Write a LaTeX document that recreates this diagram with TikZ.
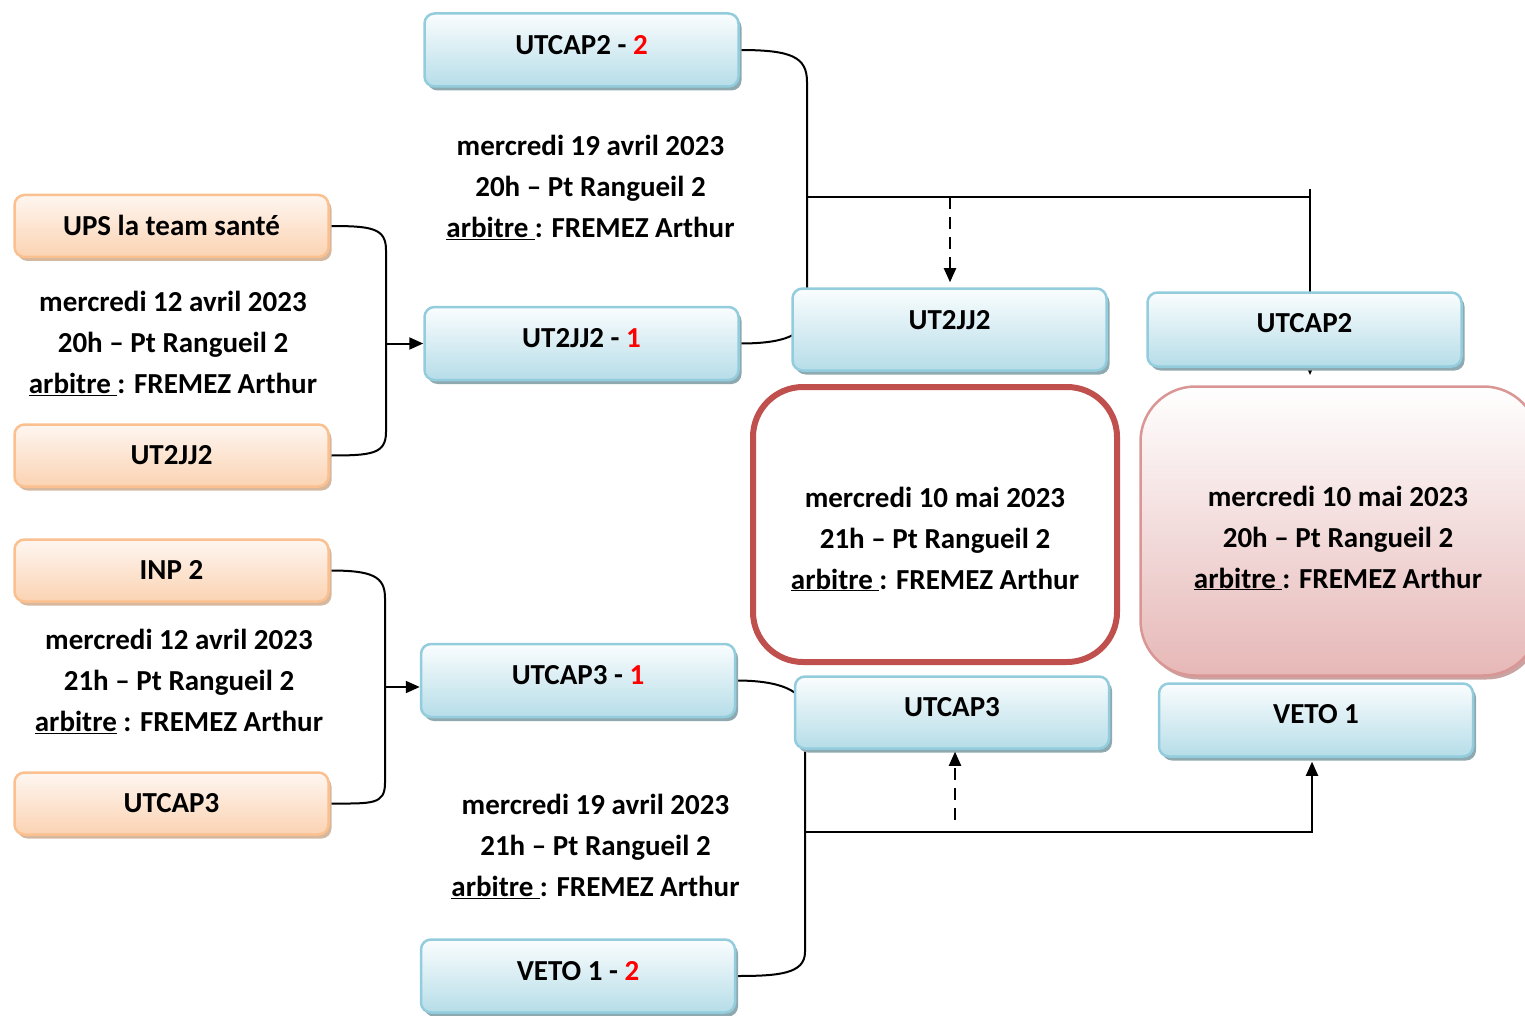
\documentclass[tikz,border=0pt]{standalone}
\usepackage{fontspec}
\setmainfont{Carlito}
\usetikzlibrary{arrows.meta,shadows}
\definecolor{bluebd}{HTML}{93CDDD}
\definecolor{bluetop}{HTML}{FAFDFE}
\definecolor{bluebot}{HTML}{B6DDE8}
\definecolor{blueshd}{HTML}{8FA9B1}
\definecolor{orgbd}{HTML}{FAC090}
\definecolor{orgtop}{HTML}{FEF6F0}
\definecolor{orgbot}{HTML}{FBD3B2}
\definecolor{orgshd}{HTML}{D6B89F}
\definecolor{redbd}{HTML}{C0504D}
\definecolor{pinkbd}{HTML}{D99694}
\definecolor{pinkbot}{HTML}{E6B8B7}
\definecolor{pinkshd}{HTML}{C9A3A2}
\pgfdeclarelayer{bg}
\pgfsetlayers{bg,main}
\newcommand\arbS{\underline{arbitre\ }}
\newcommand\arbN{\underline{arbitre}\ }
\newcommand\rd[1]{{\color{red}#1}}
\begin{document}
\begin{tikzpicture}[x=1pt,y=-1pt,
  every node/.style={font=\fontsize{29}{41}\selectfont\bfseries},
  bbox/.style={rounded corners=10pt, draw=bluebd, line width=2.5pt,
    top color=bluetop, bottom color=bluebot, minimum width=314pt,
    minimum height=73pt, inner sep=0pt, text height=18.6pt, text depth=10pt,
    drop shadow={shadow xshift=3pt, shadow yshift=-4pt, fill=blueshd, opacity=1}},
  obox/.style={rounded corners=10pt, draw=orgbd, line width=2.5pt,
    top color=orgtop, bottom color=orgbot, minimum width=314pt,
    minimum height=62pt, inner sep=0pt, text height=18.6pt, text depth=0pt,
    drop shadow={shadow xshift=3pt, shadow yshift=-4pt, fill=orgshd, opacity=1}},
  info/.style={align=center, inner sep=0pt},
  conn/.style={draw=black, line width=2pt},
  arr/.style={conn, -{Triangle[length=14pt,width=12pt]}},
  darr/.style={arr, dash pattern=on 12pt off 8pt}]
\useasboundingbox (0,0) rectangle (1525,1016);

% left orange boxes
\node[obox] (o1) at (171.5,226) {UPS la team santé};
\node[obox] (o2) at (171.5,455.5) {UT2JJ2};
\node[obox] (o3) at (171.5,570.5) {INP 2};
\node[obox] (o4) at (171.5,803.5) {UTCAP3};

% middle blue boxes
\node[bbox] (b1) at (581.5,50) {UTCAP2 - \rd{2}};
\node[bbox] (b2) at (581.5,343.5) {UT2JJ2 - \rd{1}};
\node[bbox] (b3) at (578,680.5) {UTCAP3 - \rd{1}};
\node[bbox] (b4) at (578,976) {VETO 1 - \rd{2}};

% right blue boxes
\node[bbox, minimum height=82pt, text depth=19pt] (r1) at (949.5,329.5) {UT2JJ2};
\node[bbox, minimum height=74pt, text depth=13pt] (r2) at (1304.5,329.5) {UTCAP2};
\node[bbox, minimum height=72pt, text depth=10pt] (r3) at (952,712.5) {UTCAP3};
\node[bbox, minimum height=73pt, text depth=12pt] (r4) at (1316,720) {VETO 1};

% final boxes
\node[draw=redbd, line width=6pt, rounded corners=50pt, fill=white,
  minimum width=364pt, minimum height=275pt] (fin1) at (935,524.5) {};
\node[draw=pinkbd, line width=2.5pt, rounded corners=55pt,
  top color=white, bottom color=pinkbot,
  drop shadow={shadow xshift=3pt, shadow yshift=-4pt, fill=pinkshd, opacity=1},
  minimum width=398pt, minimum height=289pt] (fin2) at (1339.5,531) {};

% info texts
\node[info] (iA) at (590.5,187.5) {mercredi 19 avril 2023\\20h – Pt Rangueil 2\\\arbS: FREMEZ Arthur};
\node[info] (iB) at (173,343.5) {mercredi 12 avril 2023\\20h – Pt Rangueil 2\\\arbS: FREMEZ Arthur};
\node[info] (iC) at (179,681.5) {mercredi 12 avril 2023\\21h – Pt Rangueil 2\\\arbN: FREMEZ Arthur};
\node[info] (iD) at (595.5,846.5) {mercredi 19 avril 2023\\21h – Pt Rangueil 2\\\arbS: FREMEZ Arthur};
\node[info] (iE) at (935,539) {mercredi 10 mai 2023\\21h – Pt Rangueil 2\\\arbS: FREMEZ Arthur};
\node[info] (iF) at (1338,538) {mercredi 10 mai 2023\\20h – Pt Rangueil 2\\\arbS: FREMEZ Arthur};

% connector coordinates
\coordinate (j1) at (386,343.5);
\coordinate (j2) at (385,687);
\coordinate (m1) at (807,197);
\coordinate (k1) at (1310,197);
\coordinate (k0) at (1310,189);
\coordinate (k2) at (1310,375);
\coordinate (d1) at (950,197);
\coordinate (m2) at (805,832);
\coordinate (k3) at (1312,832);
\coordinate (d2) at (955,820);

\begin{pgfonlayer}{bg}
  \draw[conn] (o1.east) .. controls +(42,0) and +(0,-22) .. (386,250) -- (386,432)
     .. controls +(0,22) and +(42,0) .. (o2.east);
  \draw[arr] (j1) -- (j1 -| b2.west);
  \draw[conn] (o3.east) .. controls +(42,0) and +(0,-22) .. (385,598) -- (385,783)
     .. controls +(0,22) and +(42,0) .. (o4.east);
  \draw[arr] (j2) -- (j2 -| b3.west);
  \draw[conn] (b1.east) .. controls +(52,0) and +(0,-25) .. (807,82) -- (807,312)
     .. controls +(0,25) and +(40,0) .. (b2.east);
  \draw[conn] (m1) -- (k1);
  \draw[arr] (k0) -- (k2);
  \draw[conn] (b3.east) .. controls +(42,0) and +(0,-22) .. (805,712) -- (805,952)
     .. controls +(0,22) and +(42,0) .. (b4.east);
  \draw[arr, shorten >=4pt] (m2) -- (k3) -- (k3 |- r4.south);
\end{pgfonlayer}
\draw[darr, shorten >=5pt] (d1) -- (d1 |- r1.north);
\draw[darr, shorten >=2pt] (d2) -- (d2 |- r3.south);
\end{tikzpicture}
\end{document}
